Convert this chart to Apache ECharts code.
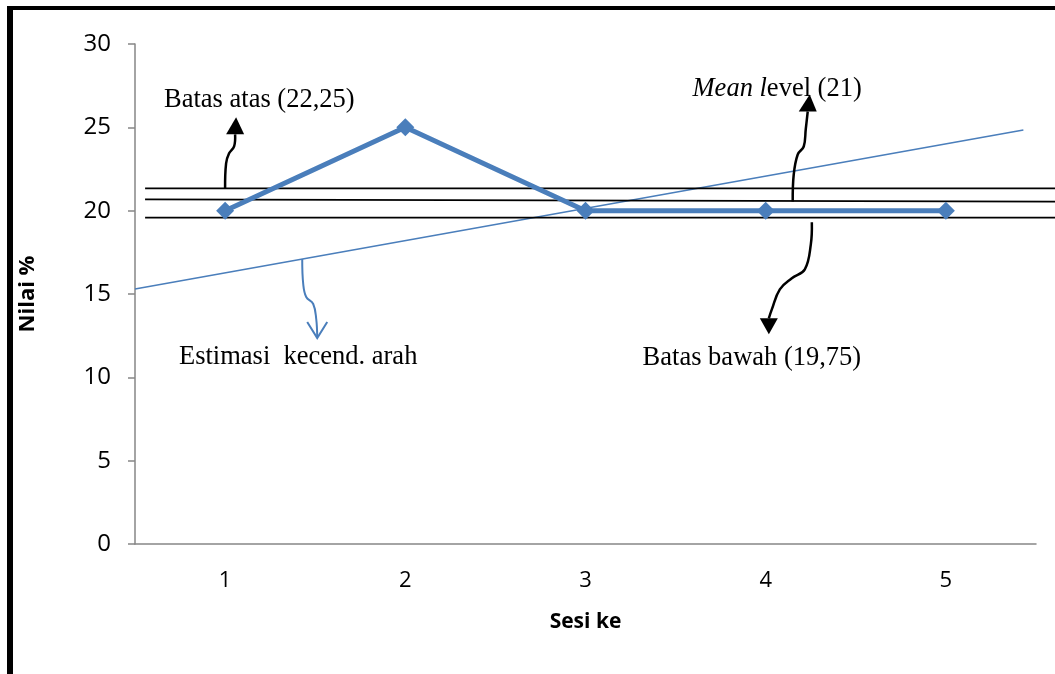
<!DOCTYPE html>
<html>
<head>
<meta charset="utf-8">
<script src="https://cdn.jsdelivr.net/npm/echarts@6/dist/echarts.min.js"></script>
<style>
html,body{margin:0;padding:0;background:#fff;}
#c{width:1055px;height:674px;}
</style>
</head>
<body>
<div id="c"></div>
<script>
// ---- data ----
const sessions = ['1', '2', '3', '4', '5'];
const scores = [20, 25, 20, 20, 20];
const yTicks = { min: 0, max: 30, interval: 5 };
// hand-drawn reference lines (x in session units, y in %)
const upperLine = [[0.556, 21.34], [5.62, 21.34]];
const meanLine = [[0.556, 20.68], [5.62, 20.54]];
const lowerLine = [[0.556, 19.58], [5.62, 19.58]];
const trendLine = [[0.5, 15.3], [5.43, 24.84]];

const chart = echarts.init(document.getElementById('c'));
const blue = '#4a7ebb';
const axisGray = '#868686';
const sans = "'Open Sans', sans-serif";
const serif = "'Liberation Serif', 'DejaVu Serif', serif";

// second grid: same scale as the category axis (180 px per session) but reaching the right edge
const G = { left: 135, top: 44, bottom: 130 };
const plotW = 1055 - G.left - 19;           // main grid width (5 sessions)
const extMax = 0.5 + 5 * (1055 - G.left) / plotW;

function refSeries(data, color, width, z) {
  return {
    type: 'line', xAxisIndex: 1, yAxisIndex: 1, data: data,
    symbol: 'none', clip: false, silent: true, z: z,
    lineStyle: { color: color, width: width }
  };
}

chart.setOption({
  animation: false,
  grid: [
    { left: G.left, right: 19, top: G.top, bottom: G.bottom },
    { left: G.left, right: 0, top: G.top, bottom: G.bottom }
  ],
  xAxis: [{
    type: 'category', data: sessions, boundaryGap: true, gridIndex: 0,
    name: 'Sesi ke', nameLocation: 'middle', nameGap: 68,
    nameTextStyle: { fontFamily: sans, fontWeight: 'bold', fontSize: 21, color: '#000' },
    axisLine: { lineStyle: { color: axisGray, width: 1.5 } },
    axisTick: { show: false },
    axisLabel: { fontFamily: sans, fontSize: 22, color: '#000', margin: 26 },
    splitLine: { show: false }
  }, {
    type: 'value', gridIndex: 1, min: 0.5, max: extMax, show: false
  }],
  yAxis: [{
    type: 'value', gridIndex: 0, min: yTicks.min, max: yTicks.max, interval: yTicks.interval,
    name: 'Nilai %', nameLocation: 'middle', nameGap: 96, nameRotate: 90,
    nameTextStyle: { fontFamily: sans, fontWeight: 'bold', fontSize: 22, color: '#000' },
    axisLine: { show: true, lineStyle: { color: axisGray, width: 1.5 } },
    axisTick: { show: true, length: 7, lineStyle: { color: axisGray, width: 1.5 } },
    axisLabel: { fontFamily: sans, fontSize: 24, color: '#000', margin: 24 },
    splitLine: { show: false }
  }, {
    type: 'value', gridIndex: 1, min: yTicks.min, max: yTicks.max, show: false
  }],
  series: [
    refSeries(trendLine, blue, 1.6, 2),
    refSeries(upperLine, '#000', 1.6, 3),
    refSeries(meanLine, '#000', 1.6, 3),
    refSeries(lowerLine, '#000', 1.6, 3),
    {
      type: 'line', data: scores, xAxisIndex: 0, yAxisIndex: 0, z: 5,
      symbol: 'diamond', symbolSize: 18,
      itemStyle: { color: blue },
      lineStyle: { color: blue, width: 5 }
    }
  ]
});

// ---- annotations anchored in data coordinates ----
function px(x, y) { return chart.convertToPixel({ xAxisIndex: 1, yAxisIndex: 1 }, [x, y]); }

const graphics = [];
// frame
graphics.push({ type: 'rect', shape: { x: 7, y: 6, width: 6, height: 700 }, style: { fill: '#000' }, z: 100 });
graphics.push({ type: 'rect', shape: { x: 7, y: 6, width: 1100, height: 4 }, style: { fill: '#000' }, z: 100 });

function arrow(anchor, path, tip, color, filled) {
  const a = px(anchor[0], anchor[1]);
  const pts = path.map(p => [a[0] + p[0], a[1] + p[1]]);
  graphics.push({ type: 'polyline', shape: { points: pts, smooth: 0.4 },
    style: { stroke: color, lineWidth: filled ? 2.5 : 2, fill: null }, z: 50 });
  const last = pts[pts.length - 1];
  const t = [a[0] + tip[0], a[1] + tip[1]];
  const dy = t[1] - last[1];
  const dir = dy < 0 ? -1 : 1;
  if (filled) {
    graphics.push({ type: 'polygon', shape: { points: [[t[0], t[1]], [last[0] - 9, last[1]], [last[0] + 9, last[1]]] },
      style: { fill: color }, z: 50 });
  } else {
    graphics.push({ type: 'polyline', shape: { points: [[t[0] - 10, t[1] - 16 * dir], [t[0], t[1]], [t[0] + 10, t[1] - 16 * dir]] },
      style: { stroke: color, lineWidth: 2, fill: null }, z: 50 });
  }
}
// Batas atas
arrow([1.0, 21.34], [[0, 0], [1, -25], [4, -35], [9, -42], [10, -54]], [11, -71], '#000', true);
// Mean level
arrow([4.15, 20.55], [[0, 0], [1, -27], [5, -47], [11, -55], [13, -72], [15, -90]], [17, -107], '#000', true);
// Batas bawah
arrow([4.256, 19.3], [[0, 0], [-1, 22], [-7, 47], [-20, 56], [-32, 67], [-40, 87], [-43, 96]], [-43, 112], '#000', true);
// Estimasi (open blue arrow)
arrow([1.428, 17.1], [[0, 0], [1, 25], [4, 38], [11, 45], [14, 60], [15, 78]], [15, 79], blue, false);

function label(x, y, text, rich) {
  const p = px(x, y);
  graphics.push({ type: 'text', x: p[0], y: p[1], z: 60,
    style: { text: text, fontFamily: serif, fontSize: 26.5, fill: '#000', textVerticalAlign: 'middle', textAlign: 'left', rich: rich || undefined } });
}
label(0.661, 26.64, 'Batas atas (22,25)');
label(3.594, 27.3, '{i|Mean l}{n|evel (21)}', {
  i: { fontFamily: serif, fontSize: 26.5, fontStyle: 'italic', fill: '#000' },
  n: { fontFamily: serif, fontSize: 26.5, fill: '#000' }
});
label(3.317, 11.16, 'Batas bawah (19,75)');
label(0.744, 11.22, 'Estimasi  kecend. arah');

chart.setOption({ graphic: graphics });
</script>
</body>
</html>
